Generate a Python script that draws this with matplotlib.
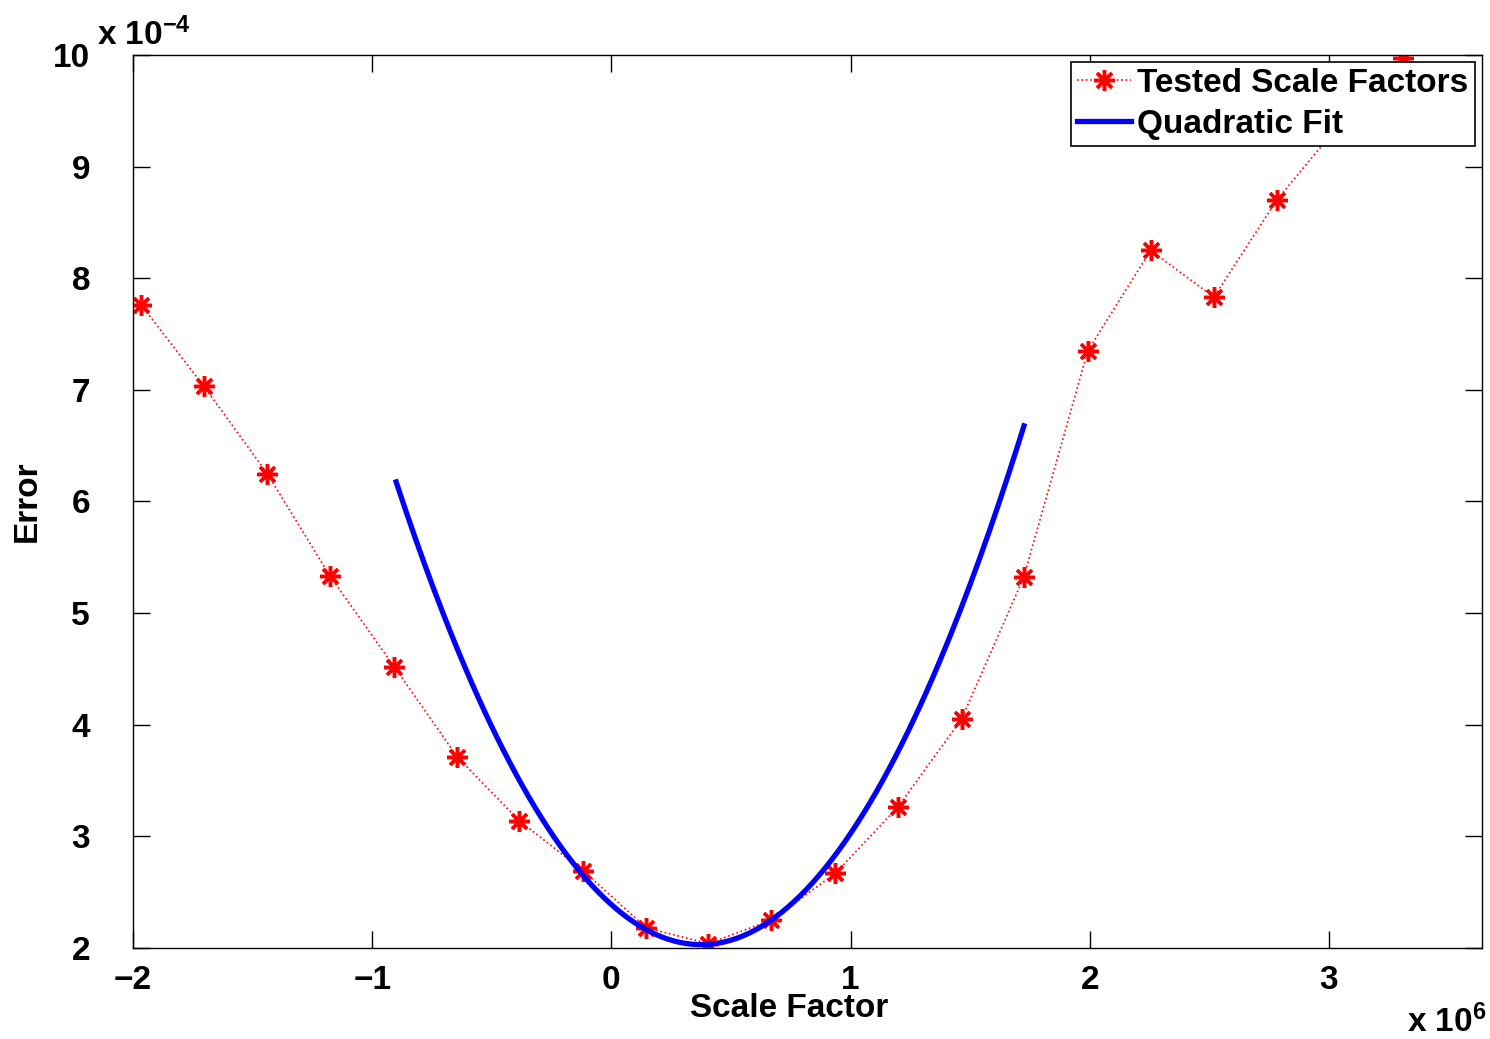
import numpy as np
import matplotlib
matplotlib.use('Agg')
import matplotlib.pyplot as plt

plt.rcParams['font.family'] = ['Liberation Sans', 'DejaVu Sans']
plt.rcParams['font.weight'] = 'bold'
plt.rcParams['font.size'] = 24
plt.rcParams['mathtext.default'] = 'regular'

# tested scale factors (x 1e6) and error (x 1e-4)
scale = [-1.966, -1.703, -1.439, -1.176, -0.908, -0.644, -0.385, -0.117, 0.146, 0.406, 0.669,
         0.937, 1.197, 1.464, 1.724, 1.992, 2.255, 2.519, 2.782, 3.045, 3.310]
error = [7.76, 7.03, 6.25, 5.33, 4.52, 3.71, 3.14, 2.69, 2.18, 2.04, 2.25,
         2.67, 3.26, 4.05, 5.32, 7.35, 8.25, 7.83, 8.70, 9.38, 9.97]

# quadratic fit: a*(x-h)^2 + k, drawn over its fitted range
fit_a, fit_h, fit_k = 2.55, 0.375, 2.03
fit_range = [-0.90, 1.725]

xticks = [-2, -1, 0, 1, 2, 3]
yticks = [2, 3, 4, 5, 6, 7, 8, 9, 10]

fig = plt.figure(figsize=(14.9, 10.39), dpi=100)
ax = fig.add_axes([0.0893, 0.0876, 0.9053, 0.8595])

ax.plot(scale, error, linestyle=':', color='red', linewidth=1.2, marker=(8, 2, 0),
        markersize=15, markeredgewidth=2.5, label='Tested Scale Factors')
xf = np.linspace(fit_range[0], fit_range[1], 200)
ax.plot(xf, fit_a * (xf - fit_h) ** 2 + fit_k, color='blue', linewidth=3.8, label='Quadratic Fit')

ax.set_xlim(-2.0, 3.64)
ax.set_ylim(2, 10)
ax.set_xticks(xticks)
ax.set_yticks(yticks)
ax.set_xticklabels([str(t).replace('-', '\u2212') for t in xticks])
ax.tick_params(direction='in', length=12, width=1, top=True, right=True)
ax.tick_params(axis='x', pad=12)
ax.tick_params(axis='y', pad=31)
for s in ax.spines.values():
    s.set_linewidth(1)

leg = ax.legend(loc='upper right', bbox_to_anchor=(0.9945, 0.992), fancybox=False,
                edgecolor='black', framealpha=1, borderpad=0.18, handlelength=1.6,
                handletextpad=0.2, labelspacing=0.3, borderaxespad=0)
leg.get_frame().set_linewidth(1.2)

fig.text(789 / 1490, 1 - 1017 / 1039, 'Scale Factor', ha='center', va='baseline')
fig.text(27 / 1490, 1 - 501 / 1039, 'Error', ha='center', va='center', rotation=90)
fig.text(97 / 1490, 1 - 45 / 1039, 'x 10$^{\u22124}$', ha='left', va='baseline')
fig.text(1407 / 1490, 1 - 1032 / 1039, 'x 10$^{6}$', ha='left', va='baseline')

fig.savefig('out.png')
